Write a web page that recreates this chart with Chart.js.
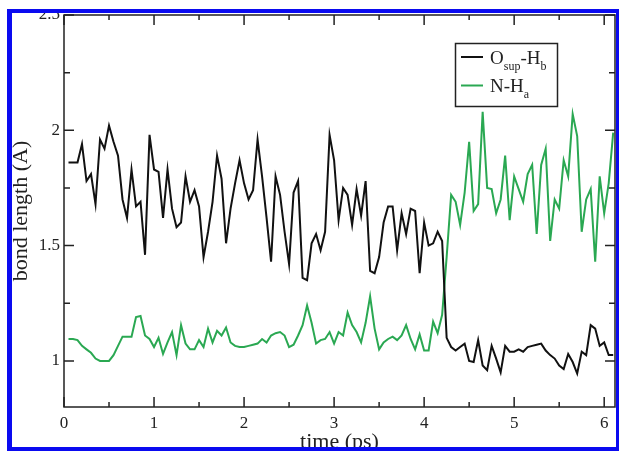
<!DOCTYPE html>
<html>
<head>
<meta charset="utf-8">
<title>Bond length vs time</title>
<script src="https://cdn.jsdelivr.net/npm/chart.js@4.4.1/dist/chart.umd.min.js"></script>
<style>
    html, body { margin: 0; padding: 0; background: #fff; }
    #wrap { width: 619px; height: 451px; }
</style>
</head>
<body>
<div id="wrap"><canvas id="bondChart" width="619" height="451"></canvas></div>
<script>
// Sampling of the trajectory (ps)
const timeStart = 0.05;
const timeStep = 0.05;

// O_sup - H_b bond length (A), black curve
const oSupHb = [
    1.86, 1.86, 1.86, 1.94, 1.78, 1.81, 1.68, 1.96, 1.92, 2.02,
    1.95, 1.89, 1.70, 1.62, 1.83, 1.67, 1.69, 1.46, 1.98, 1.83,
    1.82, 1.62, 1.83, 1.66, 1.58, 1.60, 1.80, 1.69, 1.74, 1.67,
    1.45, 1.56, 1.69, 1.89, 1.79, 1.51, 1.66, 1.77, 1.87, 1.77,
    1.70, 1.74, 1.96, 1.80, 1.62, 1.43, 1.80, 1.72, 1.56, 1.42,
    1.73, 1.78, 1.36, 1.35, 1.51, 1.55, 1.48, 1.56, 1.98, 1.87,
    1.61, 1.75, 1.72, 1.59, 1.745, 1.63, 1.78, 1.39, 1.38, 1.45,
    1.60, 1.67, 1.67, 1.48, 1.64, 1.55, 1.66, 1.65, 1.38, 1.60,
    1.50, 1.51, 1.56, 1.52, 1.10, 1.06, 1.045, 1.06, 1.075, 1.00,
    0.995, 1.09, 0.98, 0.96, 1.065, 1.01, 0.95, 1.065, 1.04, 1.04,
    1.05, 1.04, 1.06, 1.065, 1.07, 1.075, 1.045, 1.025, 1.01, 0.98,
    0.965, 1.03, 0.995, 0.945, 1.04, 1.025, 1.155, 1.14, 1.065, 1.08,
    1.025, 1.025
];

// N - H_a bond length (A), green curve
const nHa = [
    1.095, 1.095, 1.09, 1.065, 1.05, 1.035, 1.01, 1.00, 1.00, 1.00,
    1.025, 1.065, 1.105, 1.105, 1.105, 1.19, 1.195, 1.11, 1.095, 1.06,
    1.10, 1.03, 1.08, 1.125, 1.025, 1.155, 1.075, 1.05, 1.05, 1.09,
    1.06, 1.14, 1.08, 1.13, 1.11, 1.145, 1.08, 1.065, 1.06, 1.06,
    1.065, 1.07, 1.075, 1.095, 1.08, 1.11, 1.12, 1.125, 1.11, 1.06,
    1.07, 1.11, 1.155, 1.24, 1.165, 1.075, 1.09, 1.095, 1.125, 1.075,
    1.125, 1.11, 1.21, 1.155, 1.125, 1.08, 1.165, 1.28, 1.14, 1.05,
    1.08, 1.095, 1.105, 1.09, 1.11, 1.155, 1.095, 1.05, 1.115, 1.045,
    1.045, 1.17, 1.12, 1.20, 1.45, 1.72, 1.69, 1.59, 1.73, 1.95,
    1.65, 1.68, 2.08, 1.75, 1.745, 1.64, 1.70, 1.89, 1.61, 1.80,
    1.745, 1.69, 1.81, 1.85, 1.55, 1.85, 1.92, 1.52, 1.70, 1.66,
    1.87, 1.80, 2.07, 1.975, 1.56, 1.70, 1.745, 1.43, 1.80, 1.64,
    1.77, 1.99
];

// Axis ticks
const xMajorTicks = [0, 1, 2, 3, 4, 5, 6];
const xMinorTicks = [0.5, 1.5, 2.5, 3.5, 4.5, 5.5];
const yMajorTicks = [1, 1.5, 2, 2.5];
const yMinorTicks = [1.25, 1.75, 2.25];

const times = oSupHb.map((_, i) => +(timeStart + i * timeStep).toFixed(2));
const toPoints = values => values.map((v, i) => ({ x: times[i], y: v }));

const SERIF = "'Liberation Serif', 'DejaVu Serif', serif";
const INK = '#222';
const GREEN = '#2aa852';

// Frame with inward ticks, legend, axis titles and the blue border
const decorations = {
    id: 'decorations',
    afterDraw(chart) {
        const ctx = chart.ctx;
        const { left, right, top, bottom } = chart.chartArea;
        const x = chart.scales.x;
        const y = chart.scales.y;

        ctx.save();
        ctx.strokeStyle = INK;
        ctx.lineWidth = 1.5;
        ctx.strokeRect(left, top, right - left, bottom - top);

        ctx.beginPath();
        const xTick = (v, len) => {
            const px = x.getPixelForValue(v);
            ctx.moveTo(px, bottom); ctx.lineTo(px, bottom - len);
            ctx.moveTo(px, top); ctx.lineTo(px, top + len);
        };
        const yTick = (v, len) => {
            const py = y.getPixelForValue(v);
            ctx.moveTo(left, py); ctx.lineTo(left + len, py);
            ctx.moveTo(right, py); ctx.lineTo(right - len, py);
        };
        xMajorTicks.forEach(v => xTick(v, 10));
        xMinorTicks.forEach(v => xTick(v, 5));
        yMajorTicks.forEach(v => yTick(v, 10));
        yMinorTicks.forEach(v => yTick(v, 6));
        ctx.stroke();

        // Legend
        ctx.lineWidth = 1.5;
        ctx.strokeStyle = INK;
        ctx.strokeRect(455.5, 43.5, 102, 63);
        ctx.lineWidth = 2;
        ctx.strokeStyle = '#111';
        ctx.beginPath(); ctx.moveTo(461, 57); ctx.lineTo(483, 57); ctx.stroke();
        ctx.strokeStyle = GREEN;
        ctx.beginPath(); ctx.moveTo(461, 85.5); ctx.lineTo(483, 85.5); ctx.stroke();

        ctx.fillStyle = INK;
        ctx.textAlign = 'left';
        ctx.textBaseline = 'alphabetic';
        const runs = (parts, startX, baseY) => {
            let cx = startX;
            parts.forEach(([text, sub]) => {
                ctx.font = (sub ? 12 : 19) + 'px ' + SERIF;
                ctx.fillText(text, cx, sub ? baseY + 6 : baseY);
                cx += ctx.measureText(text).width;
            });
        };
        runs([['O', false], ['sup', true], ['-H', false], ['b', true]], 490, 64);
        runs([['N-H', false], ['a', true]], 490, 92);

        // Axis titles
        ctx.font = '22px ' + SERIF;
        ctx.textAlign = 'center';
        ctx.fillText('time (ps)', (left + right) / 2, 448);

        ctx.save();
        ctx.translate(21, (top + bottom) / 2);
        ctx.rotate(-Math.PI / 2);
        ctx.textBaseline = 'middle';
        ctx.fillText('bond length (A)', 0, 0);
        ctx.restore();

        // Scanned frame
        ctx.fillStyle = '#fff';
        ctx.fillRect(0, 0, 619, 9);
        ctx.fillRect(0, 0, 7, 451);
        ctx.fillStyle = '#0a0af0';
        ctx.fillRect(7, 9, 5, 442);
        ctx.fillRect(7, 9, 612, 4);
        ctx.fillRect(616, 9, 3, 442);
        ctx.fillRect(7, 447, 612, 4);
        ctx.restore();
    }
};

new Chart(document.getElementById('bondChart'), {
    type: 'line',
    data: {
        datasets: [
            {
                label: 'O_sup-H_b',
                data: toPoints(oSupHb),
                borderColor: '#111',
                borderWidth: 2,
                pointRadius: 0,
                tension: 0
            },
            {
                label: 'N-H_a',
                data: toPoints(nHa),
                borderColor: GREEN,
                borderWidth: 2,
                pointRadius: 0,
                tension: 0
            }
        ]
    },
    options: {
        responsive: false,
        animation: false,
        devicePixelRatio: 1,
        layout: { padding: { left: 0, right: 4, top: 15, bottom: 0 } },
        plugins: {
            legend: { display: false },
            tooltip: { enabled: false }
        },
        scales: {
            x: {
                type: 'linear',
                min: 0,
                max: 6.12,
                grid: { display: false, drawTicks: false },
                border: { display: false },
                afterBuildTicks: scale => { scale.ticks = xMajorTicks.map(v => ({ value: v })); },
                afterFit: scale => { scale.height = 44; },
                ticks: {
                    padding: 6,
                    color: INK,
                    font: { family: SERIF, size: 17 },
                    maxRotation: 0
                }
            },
            y: {
                type: 'linear',
                min: 0.8,
                max: 2.5,
                grid: { display: false, drawTicks: false },
                border: { display: false },
                afterBuildTicks: scale => { scale.ticks = yMajorTicks.map(v => ({ value: v })); },
                afterFit: scale => { scale.width = 64; },
                ticks: {
                    padding: 4,
                    color: INK,
                    font: { family: SERIF, size: 17 },
                    callback: v => String(v)
                }
            }
        }
    },
    plugins: [decorations]
});
</script>
</body>
</html>
